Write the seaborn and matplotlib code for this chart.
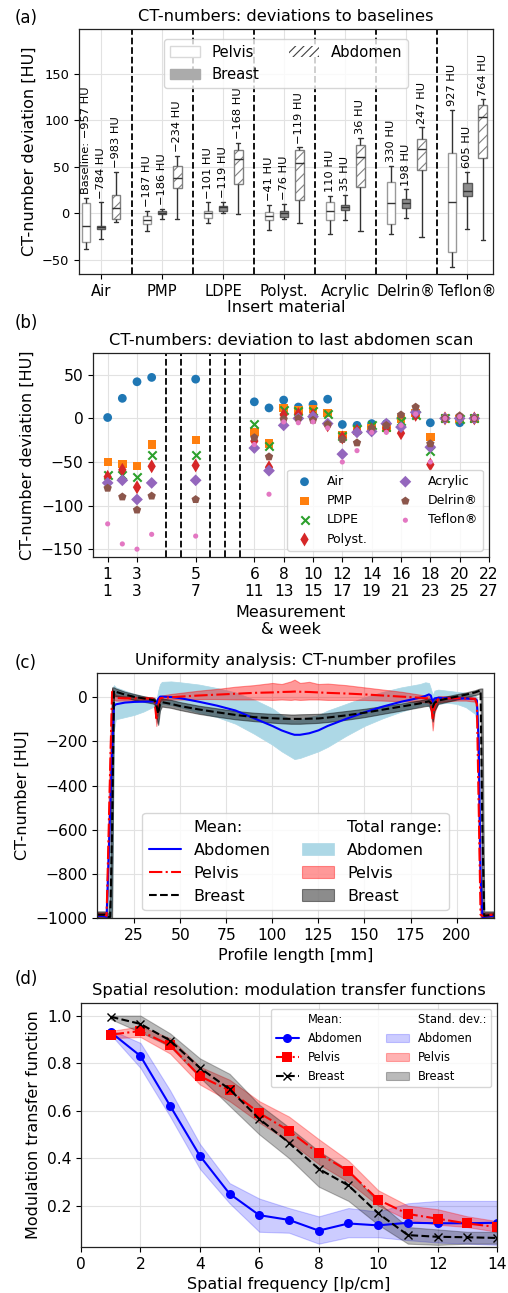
import numpy as np
import pandas as pd
import matplotlib
matplotlib.use("Agg")
import matplotlib.pyplot as plt
from matplotlib.patches import Patch
from matplotlib.lines import Line2D
import seaborn as sns

# ---------------- (a) box stats: [whisker low, q1, median, q3, whisker high] ----------------
materials = ["Air", "PMP", "LDPE", "Polyst.", "Acrylic", "Delrin®", "Teflon®"]
protocols = ["Pelvis", "Breast", "Abdomen"]

pelvis_box = [[-38, -31, -14, 11, 17], [-19, -11.5, -7, -2.5, 3], [-10, -5, 0, 2.5, 12],
              [-17.5, -6.5, -3, 2, 9], [-22, -7, 3, 12, 19], [-22.5, -11, 11, 34, 51],
              [-58, -41, 12.5, 64.5, 111]]
breast_box = [[-27, -17, -15, -13, 12], [-6, -1, 1, 3, 5], [0, 3, 6.5, 8, 12.5],
              [-6, -4, 1, 3, 10], [-6.5, 4, 6.5, 9, 20], [-5, 6, 11, 16, 26],
              [-16.5, 19, 24, 33, 45]]
abdomen_box = [[-9, -6, 6, 20, 45], [-6, 27, 38, 51, 62], [-1, 32, 58, 68, 76],
               [-10, 14, 54, 68, 71], [-19, 28, 61, 73, 81], [-25.5, 47, 69.5, 79.5, 92.5],
               [-29, 60, 103, 116, 122.5]]

pelvis_base = ["Baseline: −957 HU", "−187 HU", "−101 HU", "−41 HU", "110 HU", "330 HU", "927 HU"]
breast_base = ["−784 HU", "−186 HU", "−119 HU", "−76 HU", "35 HU", "198 HU", "605 HU"]
abdomen_base = ["−983 HU", "−234 HU", "−168 HU", "−119 HU", "36 HU", "247 HU", "764 HU"]

# ---------------- (b) deviation to last abdomen scan ----------------
weeks = [1, 2, 3, 4, 7, 11, 12, 13, 14, 15, 16, 17, 18, 19, 20, 21, 22, 23, 24, 25, 26]
skipped_weeks = [5, 6, 8, 9, 10]
tick_weeks = [1, 3, 7, 11, 13, 15, 17, 19, 21, 23, 25, 27]
tick_meas = [1, 3, 5, 6, 8, 10, 12, 14, 16, 18, 20, 22]

dev_air = [1, 23, 42, 47, 45, 19, 12, 21, 13, 16, 22, -7, -8, -6, -6, 0, 4, -5, 0, -5, 0]
dev_pmp = [-50, -52, -55, -30, -25, -16, -29, 12, 9, 11, 6, -19, -14, -11, -11, -1, 6, -21, 0, -1, 0]
dev_ldpe = [-65, -65, -67, -42, -42, -6, -32, 10, 8, 9, 5, -20, -12, -8, -10, -3, 4, -37, 0, -1, 0]
dev_polyst = [-67, -59, -79, -55, -54, -26, -56, 4, 5, 4, -8, -22, -14, -13, -11, -17, 4, -53, 0, 0, 0]
dev_acrylic = [-74, -71, -93, -74, -71, -34, -60, -8, 0, 2, -6, -41, -16, -15, -6, -10, 7, -33, 0, 0, 0]
dev_delrin = [-80, -90, -105, -89, -93, -22, -44, -1, 0, -2, -7, -24, -28, -11, -8, 4, 13, -29, 0, 3, 0]
dev_teflon = [-121, -144, -150, -133, -135, -30, -87, -4, -5, -4, -11, -50, -37, -16, -16, -8, 5, -50, 0, 2, 0]

# ---------------- (c) CT-number profiles ----------------
prof_x = [5, 9, 10, 11, 12, 13, 14, 15, 20, 25, 30, 35, 36, 37, 38, 39, 40, 45, 50, 60, 70,
          80, 90, 100, 105, 110, 112, 115, 120, 125, 130, 140, 150, 160, 170, 180, 183, 185,
          186, 187, 188, 190, 195, 200, 205, 210, 211, 212, 213, 214, 215, 220]
abd_mean = [-990, -992, -995, -750, -500, -250, -40, -32, -24, -21, -20, -19, -20, -28, -8, 3,
            3, 1, -4, -20, -38, -60, -95, -130, -150, -165, -170, -170, -163, -150, -130, -98,
            -68, -42, -20, -2, 6, 13, 8, -20, -5, -2, -4, -5, -6, -8, -15, -200, -800, -995,
            -995, -990]
pel_mean = [-985, -985, -990, -650, -300, 25, 5, -3, -5, -5, -5, -6, -10, -95, -40, -5, -3, 0,
            3, 8, 12, 16, 20, 22, 24, 25, 26, 25, 24, 22, 20, 17, 13, 8, 3, -2, -4, -5, -20,
            -100, -40, -8, -5, -5, -5, -8, -30, -500, -985, -990, -990, -985]
bre_mean = [-985, -985, -990, -995, -995, -600, 30, 25, 12, 2, -5, -12, -14, -30, -75, -30,
            -22, -30, -40, -55, -68, -80, -90, -95, -97, -98, -98, -98, -97, -96, -92, -82,
            -70, -56, -42, -28, -22, -18, -25, -45, -25, -15, -6, 3, 12, 22, 25, 28, 32, -600,
            -990, -985]
abd_top = [-975, -975, -975, -700, -350, 40, 55, 45, 30, 15, 5, -3, -5, -15, 30, 60, 70, 72,
           68, 58, 42, 22, -10, -50, -80, -100, -105, -100, -90, -80, -60, -30, 0, 25, 45,
           60, 68, 65, 40, 10, 30, 35, 30, 25, 20, 10, 0, -100, -700, -975, -975, -975]
abd_bot = [-1000, -1000, -1000, -1000, -1000, -950, -150, -100, -90, -80, -65, -45, -45, -110,
           -120, -45, -30, -35, -45, -70, -90, -120, -165, -215, -245, -270, -280, -275, -260,
           -245, -225, -175, -130, -95, -65, -40, -35, -40, -60, -110, -60, -30, -25, -30,
           -45, -75, -120, -600, -1000, -1000, -1000, -1000]
pel_top = [-975, -975, -975, -500, -150, 40, 20, 10, 5, 3, 2, 0, -2, -60, -10, 5, 8, 15, 20,
           30, 38, 48, 55, 65, 60, 72, 80, 65, 70, 60, 62, 55, 45, 35, 25, 12, 8, 5, -5, -60,
           -10, 5, 5, 5, 3, 0, -10, -300, -975, -975, -975, -975]
pel_bot = [-1000, -1000, -1000, -800, -450, -20, -10, -15, -15, -15, -15, -18, -25, -130, -70,
           -20, -12, -10, -10, -8, -8, -10, -10, -12, -10, -12, -10, -12, -10, -10, -12, -12,
           -12, -15, -18, -20, -22, -25, -50, -150, -70, -22, -18, -15, -15, -20, -60, -700,
           -1000, -1000, -1000, -1000]
bre_top = [-970, -970, -975, -980, -900, 45, 45, 40, 25, 15, 5, -3, -5, -15, -40, -10, -5, -12,
           -22, -38, -50, -62, -70, -75, -76, -78, -78, -77, -76, -75, -72, -62, -52, -40, -28,
           -14, -8, -5, -10, -25, -10, -3, 5, 14, 22, 32, 35, 38, 40, 40, -970, -970]
bre_bot = [-1000, -1000, -1000, -1000, -1000, -1000, 5, 5, 0, -12, -20, -28, -32, -80, -125,
           -60, -42, -48, -58, -75, -88, -100, -108, -115, -118, -120, -120, -120, -118, -116,
           -112, -102, -90, -75, -60, -45, -40, -38, -60, -110, -60, -30, -20, -10, 0, 10, 12,
           15, 18, -1000, -1000, -1000]

# ---------------- (d) modulation transfer functions ----------------
freq = [1, 2, 3, 4, 5, 6, 7, 8, 9, 10, 11, 12, 13, 14]
mtf_abd = [0.93, 0.83, 0.62, 0.41, 0.25, 0.16, 0.14, 0.095, 0.125, 0.117, 0.128, 0.126, 0.126, 0.128]
mtf_abd_lo = [0.92, 0.78, 0.575, 0.355, 0.21, 0.09, 0.086, 0.04, 0.067, 0.067, 0.055, 0.045, 0.04, 0.035]
mtf_abd_hi = [0.94, 0.885, 0.685, 0.46, 0.295, 0.23, 0.19, 0.155, 0.19, 0.175, 0.21, 0.22, 0.22, 0.22]
mtf_pel = [0.92, 0.935, 0.875, 0.745, 0.685, 0.59, 0.515, 0.42, 0.345, 0.225, 0.165, 0.145, 0.125, 0.11]
mtf_pel_lo = [0.905, 0.91, 0.84, 0.71, 0.64, 0.55, 0.47, 0.375, 0.30, 0.20, 0.14, 0.12, 0.11, 0.09]
mtf_pel_hi = [0.935, 0.955, 0.905, 0.785, 0.73, 0.64, 0.575, 0.48, 0.39, 0.265, 0.20, 0.185, 0.155, 0.135]
mtf_bre = [0.995, 0.965, 0.895, 0.78, 0.69, 0.565, 0.465, 0.355, 0.285, 0.168, 0.076, 0.069, 0.067, 0.064]
mtf_bre_lo = [0.985, 0.93, 0.87, 0.74, 0.62, 0.50, 0.40, 0.28, 0.22, 0.12, 0.04, 0.035, 0.04, 0.04]
mtf_bre_hi = [1.0, 1.0, 0.925, 0.82, 0.755, 0.625, 0.53, 0.43, 0.35, 0.215, 0.11, 0.10, 0.09, 0.09]

sns.set_theme(style="ticks", rc={
    "axes.grid": True, "grid.color": "#e2e2e2", "grid.linewidth": 0.8,
    "axes.edgecolor": "#222222", "axes.linewidth": 0.9,
    "xtick.major.size": 3.5, "ytick.major.size": 3.5,
    "xtick.major.width": 0.8, "ytick.major.width": 0.8,
    "font.size": 11.5, "axes.titlesize": 11.7, "axes.labelsize": 11.5,
    "xtick.labelsize": 11.2, "ytick.labelsize": 11.2, "legend.fontsize": 11,
    "hatch.linewidth": 0.8, "patch.force_edgecolor": False,
    "text.color": "black", "axes.labelcolor": "black",
    "xtick.color": "black", "ytick.color": "black",
})
plt.rcParams["font.family"] = ["DejaVu Sans"]

W, H = 508, 1293
fig = plt.figure(figsize=(W / 100, H / 100), dpi=100)


def rect(left, top, right, bottom):
    return [left / W, 1 - bottom / H, (right - left) / W, (bottom - top) / H]


# ======================= (a) =======================
ax = fig.add_axes(rect(79, 29, 493, 274))
rows = []
for prot, boxes in zip(protocols, [pelvis_box, breast_box, abdomen_box]):
    for mat, vals in zip(materials, boxes):
        for v in vals:
            rows.append({"material": mat, "protocol": prot, "hu": v})
df_a = pd.DataFrame(rows)

sns.boxplot(data=df_a, x="material", y="hu", hue="protocol", order=materials,
            hue_order=protocols, palette={"Pelvis": "white", "Breast": "0.55", "Abdomen": "white"},
            whis=(0, 100), width=0.75, gap=0.45, linecolor="0.2", linewidth=1.0,
            fliersize=0, legend=False, ax=ax)
n_mat = len(materials)
edge_cols = {"Pelvis": "0.6", "Breast": "0.35", "Abdomen": "0.5"}
for i, p in enumerate(ax.patches):
    prot = protocols[i // n_mat]
    if prot == "Abdomen":
        p.set_hatch("///")
    p.set_edgecolor(edge_cols[prot])

offsets = [-0.25, 0.0, 0.25]
for k, (boxes, labels) in enumerate([(pelvis_box, pelvis_base), (breast_box, breast_base),
                                     (abdomen_box, abdomen_base)]):
    for i, (vals, lab) in enumerate(zip(boxes, labels)):
        ax.text(i + offsets[k], max(vals) + 4, lab, rotation=90, ha="center", va="bottom",
                fontsize=8.2)

for i in range(n_mat - 1):
    ax.axvline(i + 0.5, color="black", ls="--", lw=1.3)
ax.grid(True, axis="both")
ax.set_xlim(-0.36, 6.42)
ax.set_ylim(-65, 198)
ax.set_yticks([-50, 0, 50, 100, 150])
ax.tick_params(axis="y", labelsize=9.4)
ax.tick_params(axis="x", labelsize=10.6)
ax.set_xlabel("Insert material", labelpad=1)
ax.set_ylabel("CT-number deviation [HU]")
ax.set_title("CT-numbers: deviations to baselines")
leg_handles = [Patch(facecolor="white", edgecolor="0.85", label="Pelvis"),
               Patch(facecolor="0.67", edgecolor="0.67", label="Breast"),
               Patch(facecolor="white", edgecolor="0.25", linewidth=0, hatch="////",
                     label="Abdomen")]
ax.legend(handles=leg_handles, ncol=2, loc="upper center", fontsize=10.7,
          bbox_to_anchor=(0.5, 0.99))

# ======================= (b) =======================
ax = fig.add_axes(rect(93, 353, 489, 557))
series_b = [("Air", dev_air, "o", "#1f77b4", 40), ("PMP", dev_pmp, "s", "#ff7f0e", 36),
            ("LDPE", dev_ldpe, "x", "#2ca02c", 36), ("Polyst.", dev_polyst, "d", "#d62728", 50),
            ("Acrylic", dev_acrylic, "D", "#9467bd", 36),
            ("Delrin®", dev_delrin, "p", "#8c564b", 40),
            ("Teflon®", dev_teflon, ".", "#e377c2", 55)]
for name, vals, mk, col, s in series_b:
    if mk == "x":
        sns.scatterplot(x=weeks, y=vals, marker=mk, color=col, edgecolor=col, linewidth=1.5,
                        s=s, label=name, ax=ax, zorder=3)
    else:
        sns.scatterplot(x=weeks, y=vals, marker=mk, color=col, edgecolor="none", linewidth=0,
                        s=s, label=name, ax=ax, zorder=3)
for w in skipped_weeks:
    ax.axvline(w, color="black", ls="--", lw=1.3)
ax.set_xlim(0, 27)
ax.set_ylim(-159, 75)
ax.set_yticks([-150, -100, -50, 0, 50])
ax.set_xticks(tick_weeks)
ax.set_xticklabels([f"{m}\n{w}" for m, w in zip(tick_meas, tick_weeks)])
ax.set_xlabel("Measurement\n& week", labelpad=4)
ax.set_ylabel("CT-number deviation [HU]")
ax.set_title("CT-numbers: deviation to last abdomen scan")
ax.legend(ncol=2, loc="lower right", fontsize=9)

# ======================= (c) =======================
ax = fig.add_axes(rect(97, 673, 494, 918))
f_abd = ax.fill_between(prof_x, abd_bot, abd_top, color="lightblue", alpha=1.0, lw=0.5)
f_pel = ax.fill_between(prof_x, pel_bot, pel_top, color="red", alpha=0.4, lw=0.8)
f_bre = ax.fill_between(prof_x, bre_bot, bre_top, color="black", alpha=0.45, lw=0.8)
sns.lineplot(x=prof_x, y=abd_mean, color="blue", linestyle="-", lw=1.5, ax=ax)
sns.lineplot(x=prof_x, y=pel_mean, color="red", linestyle="-.", lw=1.5, ax=ax)
sns.lineplot(x=prof_x, y=bre_mean, color="black", linestyle="--", lw=1.5, ax=ax)
blank = Line2D([], [], alpha=0)
h_lines = [Line2D([], [], color="blue", ls="-", lw=1.5),
           Line2D([], [], color="red", ls="-.", lw=1.5),
           Line2D([], [], color="black", ls="--", lw=1.5)]
ax.legend([blank] + h_lines + [blank, f_abd, f_pel, f_bre],
          ["Mean:", "Abdomen", "Pelvis", "Breast", "Total range:", "Abdomen", "Pelvis", "Breast"],
          ncol=2, loc="lower center", fontsize=11.5)
ax.set_xlim(4.8, 220.3)
ax.set_ylim(-1000, 110)
ax.set_xticks([25, 50, 75, 100, 125, 150, 175, 200])
ax.set_yticks([-1000, -800, -600, -400, -200, 0])
ax.set_xlabel("Profile length [mm]")
ax.set_ylabel("CT-number [HU]")
ax.set_title("Uniformity analysis: CT-number profiles")

# ======================= (d) =======================
ax = fig.add_axes(rect(81, 1003, 497, 1247))
s_abd = ax.fill_between(freq, mtf_abd_lo, mtf_abd_hi, color="blue", alpha=0.2, lw=0.8)
s_pel = ax.fill_between(freq, mtf_pel_lo, mtf_pel_hi, color="red", alpha=0.3, lw=0.8)
s_bre = ax.fill_between(freq, mtf_bre_lo, mtf_bre_hi, color="black", alpha=0.27, lw=0.8)
sns.lineplot(x=freq, y=mtf_abd, color="blue", linestyle="-", marker="o", markersize=6.5,
             markeredgecolor="blue", markeredgewidth=0, lw=1.5, ax=ax)
sns.lineplot(x=freq, y=mtf_pel, color="red", linestyle="-.", marker="s", markersize=6.5,
             markeredgecolor="red", markeredgewidth=0, lw=1.5, ax=ax)
sns.lineplot(x=freq, y=mtf_bre, color="black", linestyle="--", marker="x", markersize=6,
             markeredgecolor="black", markeredgewidth=1.0, lw=1.5, ax=ax)
h_mtf = [Line2D([], [], color="blue", ls="-", marker="o", ms=6.5, mew=0, lw=1.5),
         Line2D([], [], color="red", ls="-.", marker="s", ms=6.5, mew=0, lw=1.5),
         Line2D([], [], color="black", ls="--", marker="x", ms=6, mew=1.0, lw=1.5)]
ax.legend([blank] + h_mtf + [blank, s_abd, s_pel, s_bre],
          ["Mean:", "Abdomen", "Pelvis", "Breast", "Stand. dev.:", "Abdomen", "Pelvis", "Breast"],
          ncol=2, loc="upper right", fontsize=8.3)
ax.set_xlim(0, 14)
ax.set_ylim(0.026, 1.053)
ax.set_xticks([0, 2, 4, 6, 8, 10, 12, 14])
ax.set_yticks([0.2, 0.4, 0.6, 0.8, 1.0])
ax.set_xlabel("Spatial frequency [lp/cm]")
ax.set_ylabel("Modulation transfer function")
ax.set_title("Spatial resolution: modulation transfer functions")

for lab, ycen in [("(a)", 18), ("(b)", 323), ("(c)", 663), ("(d)", 979)]:
    fig.text(15 / W, 1 - ycen / H, lab, fontsize=12, va="center", ha="left")

fig.savefig("out.png", dpi=100)
